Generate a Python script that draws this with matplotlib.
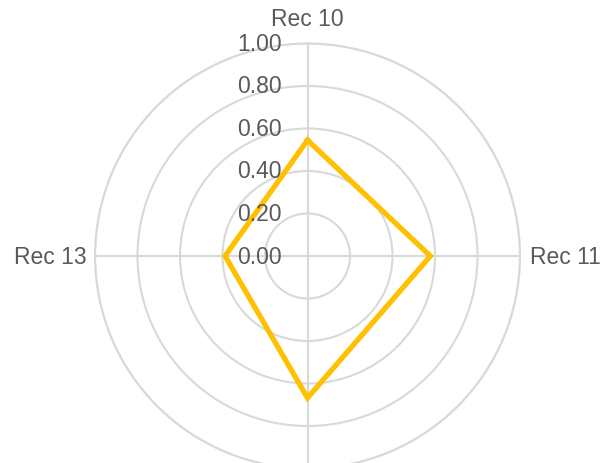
import numpy as np
import matplotlib
matplotlib.use('Agg')
import matplotlib.pyplot as plt

# data
categories = ['Rec 10', 'Rec 11', 'Rec 12', 'Rec 13']
values = [0.545, 0.578, 0.668, 0.388]
ring_values = [0.2, 0.4, 0.6, 0.8, 1.0]
ring_labels = ['0.00', '0.20', '0.40', '0.60', '0.80', '1.00']

plt.rcParams['font.family'] = ['Liberation Sans', 'DejaVu Sans']

fig = plt.figure(figsize=(6.07, 4.64), dpi=100)
# polar axes centred at (307, 257) px with 212 px radius, bottom runs off the canvas
ax = fig.add_axes([95 / 607, (207 - 212.5) / 464, 425 / 607, 425 / 464], projection='polar')
ax.set_theta_zero_location('N')
ax.set_theta_direction(-1)

angles = np.linspace(0, 2 * np.pi, len(categories), endpoint=False)
ax.set_ylim(0, 1.0)
ax.set_xticks(angles)
ax.set_xticklabels([])
ax.set_yticks(ring_values)
ax.set_yticklabels([])
ax.tick_params(length=0)

grid_col = '#d9d9d9'
ax.grid(True, color=grid_col, linewidth=1.5)
ax.spines['polar'].set_color(grid_col)
ax.spines['polar'].set_linewidth(1.5)

# closed polygon
th = np.concatenate([angles, angles[:1]])
vals = values + values[:1]
ax.plot(th, vals, color='#ffc000', linewidth=3.8, solid_joinstyle='miter', clip_on=False)

text_col = '#595959'
# radial value labels along the top spoke
for r, lab in zip([0.0] + ring_values, ring_labels):
    ax.annotate(lab, xy=(0, r), xytext=(-26, 0), textcoords='offset pixels',
                ha='right', va='center', fontsize=16.5, color=text_col, annotation_clip=False)

# category labels outside the outer ring (the bottom one falls below the canvas, as in the reference)
offsets = {0: (0, 13, 'center', 'bottom'), 1: (10, 0, 'left', 'center'),
           3: (-8, 0, 'right', 'center')}
for i, (a, c) in enumerate(zip(angles, categories)):
    if i not in offsets:
        continue
    dx, dy, ha, va = offsets[i]
    ax.annotate(c, xy=(a, 1.0), xytext=(dx, dy), textcoords='offset pixels',
                ha=ha, va=va, fontsize=16.5, color=text_col, annotation_clip=False)

fig.savefig('out.png', dpi=100)
